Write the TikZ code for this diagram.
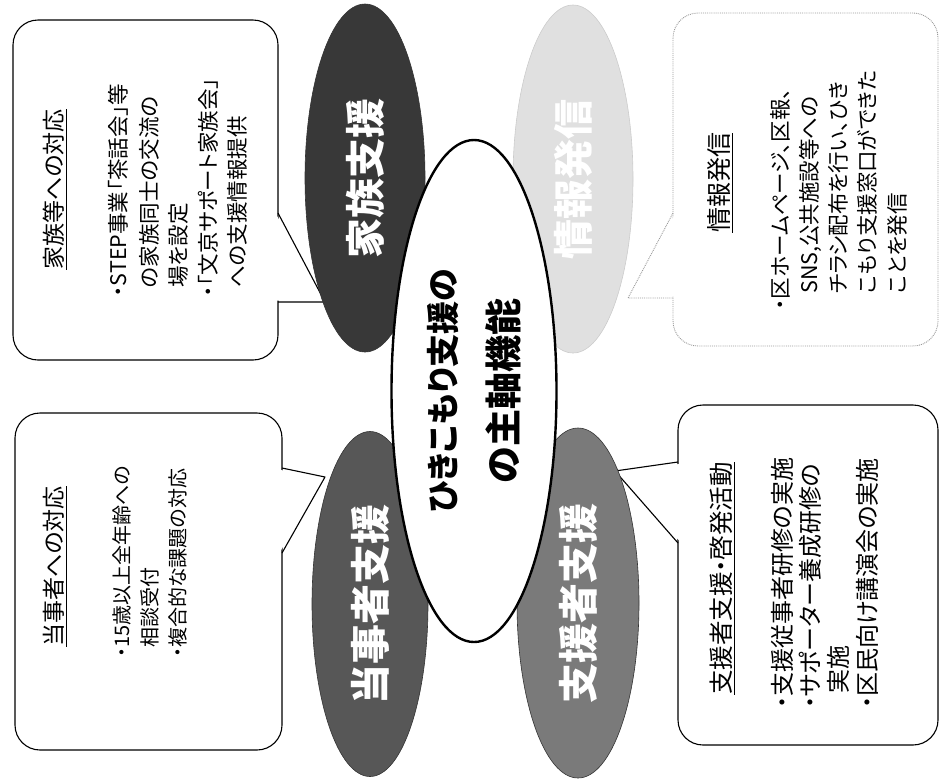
\documentclass[tikz,border=0pt]{standalone}
\usepackage{fontspec}
\setmainfont[RawFeature=+palt]{Noto Sans CJK JP}
\usetikzlibrary{shapes.geometric}
\begin{document}
\begin{tikzpicture}[x=1pt,y=-1pt,
  callbox/.style={draw=black, line width=1.1pt, fill=white, rounded corners=25pt},
  callline/.style={draw=black, line width=1.1pt, line join=round},
  faintbox/.style={draw=black!40, line width=0.9pt, densely dotted, fill=white, rounded corners=25pt},
  faintline/.style={draw=black!40, line width=0.9pt, densely dotted},
  oval/.style={ellipse, rotate=90, inner sep=0pt, text=white, draw=black!80, line width=0.6pt,
    font=\fontsize{40}{40}\selectfont\bfseries},
  centeroval/.style={ellipse, rotate=90, inner sep=0pt, fill=white, draw=black, line width=2.4pt,
    align=center, font=\fontsize{35}{50}\selectfont\bfseries},
  ln/.style={rotate=90, anchor=west, inner sep=0pt},
  fa/.style={ln, font=\fontsize{21.5}{21.5}\selectfont},
  fb/.style={ln, font=\fontsize{20}{20}\selectfont},
  fc/.style={ln, font=\fontsize{21.5}{21.5}\selectfont},
  fd/.style={ln, font=\fontsize{24}{24}\selectfont},
]
\useasboundingbox (0,0) rectangle (941,780);

% ---------- callout: top-left ----------
\coordinate (tlTip) at (325,302);
\path[callbox] (13,20) rectangle (278,360);
\fill[white] (276.5,215) -- (tlTip) -- (276.5,300.5) -- cycle;
\draw[callline] (278,213) -- (tlTip) -- (278,302);
\node[ln, font=\fontsize{23}{23}\selectfont] (tlT) at (55,270) {\underline{家族等への対応}};
\node[fa] (tl1) at (118,297) {・STEP事業「茶話会」等};
\node[fa] (tl2) at (149,288) {の家族同士の交流の};
\node[fa] (tl3) at (178,288) {場を設定};
\node[fa] (tl4) at (208,297) {・「文京サポート家族会」};
\node[fa] (tl5) at (237,288) {への支援情報提供};

% ---------- callout: bottom-left ----------
\coordinate (blTip) at (325,477);
\path[callbox] (15,413) rectangle (282,750);
\fill[white] (280.5,470) -- (blTip) -- (280.5,551) -- cycle;
\draw[callline] (282,468) -- (blTip) -- (282,553);
\node[ln, font=\fontsize{23}{23}\selectfont] (blT) at (55,647) {\underline{当事者への対応}};
\node[fb] (bl1) at (122,658) {・15歳以上全年齢への};
\node[fb] (bl2) at (150,648) {相談受付};
\node[fb] (bl3) at (178,658) {・複合的な課題の対応};

% ---------- callout: top-right ----------
\coordinate (trTip) at (628,298);
\path[faintbox] (673,13) rectangle (938,346);
\fill[white] (674.5,215) -- (trTip) -- (674.5,296.5) -- cycle;
\draw[faintline] (673,213) -- (trTip) -- (673,298);
\node[ln, font=\fontsize{25}{25}\selectfont] (trT) at (720,233) {\underline{情報発信}};
\node[fc] (tr1) at (780,310) {・区ホームページ、区報、};
\node[fc] (tr2) at (810,294) {SNS,公共施設等への};
\node[fc] (tr3) at (838,294) {チラシ配布を行い、ひき};
\node[fc] (tr4) at (867,294) {こもり支援窓口ができた};
\node[fc] (tr5) at (897,294) {ことを発信};

% ---------- callout: bottom-right ----------
\coordinate (brTip) at (615,471);
\path[callbox] (678,405) rectangle (938,745);
\fill[white] (679.5,464) -- (brTip) -- (679.5,541) -- cycle;
\draw[callline] (678,462) -- (brTip) -- (678,543);
\node[ln, font=\fontsize{24.5}{24.5}\selectfont] (brT) at (722,695) {\underline{支援者支援・啓発活動}};
\node[fd] (br1) at (782,709) {・支援従事者研修の実施};
\node[fd] (br2) at (810,709) {・サポーター養成研修の};
\node[fd] (br3) at (838,694) {実施};
\node[fd] (br4) at (867,709) {・区民向け講演会の実施};

% ---------- ellipses ----------
\node[oval, fill=black!78, minimum width=348pt, minimum height=120pt] (kazoku) at (365,178) {家族支援};
\node[oval, fill=black!12, draw=black!20, minimum width=348pt, minimum height=120pt] (joho) at (573,179) {情報発信};
\node[oval, fill=black!66, minimum width=345pt, minimum height=116pt] (tojisha) at (370,604) {当事者支援};
\node[oval, fill=black!52, minimum width=350pt, minimum height=122pt] (shiensha) at (578,603) {支援者支援};

\node[centeroval, minimum width=502pt, minimum height=165pt] (main) at (474,391)
  {{\fontsize{33}{40}\selectfont ひきこもり支援の}\\[12pt]{\fontsize{37}{40}\selectfont の主軸機能}};
\end{tikzpicture}
\end{document}
